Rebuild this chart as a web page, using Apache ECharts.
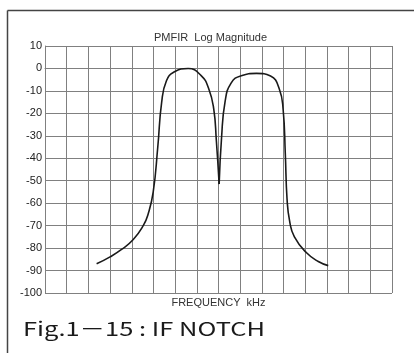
<!DOCTYPE html>
<html>
<head>
<meta charset="utf-8">
<script src="https://cdn.jsdelivr.net/npm/echarts@6/dist/echarts.min.js"></script>
<style>
html,body{margin:0;padding:0;background:#fff;}
#c{width:414px;height:353px;}
</style>
</head>
<body>
<div id="c"></div>
<script>
// Data (x in grid divisions, y in dB)
const yTicks = [10, 0, -10, -20, -30, -40, -50, -60, -70, -80, -90, -100];
const leftLobeX = [2.38, 3.0, 3.53, 4.07, 4.53, 4.75, 4.99, 5.2, 5.38, 5.6, 5.95, 6.6, 7.2, 7.55, 7.78, 7.9, 8.03];
const leftLobeY = [-87, -83.9, -80.6, -76.2, -70, -65, -55, -35, -15, -5.5, -1.6, 0, -3.2, -9, -18, -32, -51.5];
const rightLobeX = [8.03, 8.14, 8.3, 8.58, 9.05, 9.75, 10.4, 10.8, 10.98, 11.08, 11.16, 11.28, 11.5, 12.06, 12.6, 13.06];
const rightLobeY = [-51.5, -31, -15, -6.5, -3.2, -2.2, -3.4, -9, -18.3, -38, -58, -68, -75, -82.1, -86, -87.8];

const zip = (xs, ys) => xs.map((x, i) => [x, ys[i]]);

const chart = echarts.init(document.getElementById('c'), null, {renderer: 'canvas'});
const gridColor = '#808080';
chart.setOption({
  backgroundColor: '#ffffff',
  animation: false,
  title: {
    text: 'PMFIR  Log Magnitude',
    left: 149, top: 27,
    textStyle: {fontFamily: 'Liberation Sans, Arial, sans-serif', fontSize: 11, fontWeight: 'normal', color: '#333'}
  },
  grid: {left: 45, right: 22, top: 46, bottom: 60},
  xAxis: {
    type: 'value', min: 0, max: 16, interval: 1,
    name: 'FREQUENCY  kHz', nameLocation: 'middle', nameGap: 4,
    nameTextStyle: {fontFamily: 'Liberation Sans, Arial, sans-serif', fontSize: 11, color: '#333', verticalAlign: 'top'},
    axisLine: {show: true, lineStyle: {color: gridColor, width: 1}},
    axisTick: {show: false},
    axisLabel: {show: false},
    splitLine: {show: true, lineStyle: {color: gridColor, width: 1}}
  },
  yAxis: {
    type: 'value', min: -100, max: 10, interval: 10,
    axisLine: {show: true, lineStyle: {color: gridColor, width: 1}},
    axisTick: {show: false},
    axisLabel: {margin: 3, fontFamily: 'Liberation Sans, Arial, sans-serif', fontSize: 11, color: '#222',
      formatter: v => yTicks.includes(v) ? String(v) : ''},
    splitLine: {show: true, lineStyle: {color: gridColor, width: 1}}
  },
  series: [
    {type: 'line', data: zip(leftLobeX, leftLobeY), smooth: 0.5, showSymbol: false,
     lineStyle: {color: '#1a1a1a', width: 1.6}},
    {type: 'line', data: zip(rightLobeX, rightLobeY), smooth: 0.5, showSymbol: false,
     lineStyle: {color: '#1a1a1a', width: 1.6}}
  ],
  graphic: [
    {type: 'line', shape: {x1: 7.5, y1: 10.5, x2: 414, y2: 10.5}, style: {stroke: '#444', lineWidth: 1.5}},
    {type: 'line', shape: {x1: 7.5, y1: 10.5, x2: 7.5, y2: 353}, style: {stroke: '#444', lineWidth: 1.5}},
    {type: 'text', x: 23, y: 319, scaleX: 1.34, scaleY: 1,
     style: {text: 'Fig.1－15 : IF NOTCH', font: 'normal 19px "Noto Sans CJK JP", "Noto Sans", sans-serif', fill: '#1a1a1a'}}
  ]
});
</script>
</body>
</html>
